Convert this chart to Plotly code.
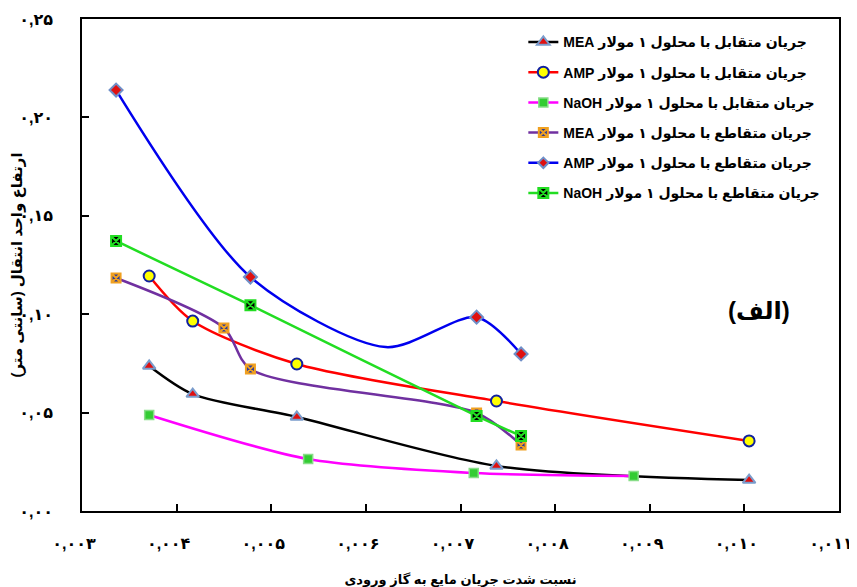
import plotly.graph_objects as go

# ---- data ----
mea_cc_x = [0.00371, 0.00417, 0.00527, 0.00738, 0.01005]
mea_cc_y = [0.0737, 0.0594, 0.0478, 0.0229, 0.0157]

amp_cc_x = [0.00371, 0.00417, 0.00527, 0.00738, 0.01005]
amp_cc_y = [0.1194, 0.0965, 0.0747, 0.0559, 0.0356]

naoh_cc_x = [0.00371, 0.00539, 0.00714, 0.00883]
naoh_cc_y = [0.0488, 0.0264, 0.0193, 0.0178]

mea_cr_x = [0.00336, 0.00450, 0.00478, 0.00717, 0.00764]
mea_cr_y = [0.1184, 0.0930, 0.0721, 0.0498, 0.0335]

amp_cr_x = [0.00336, 0.00478, 0.00621, 0.00717, 0.00764]
amp_cr_y = [0.2139, 0.1189, 0.0833, 0.0985, 0.0798]
amp_cr_marker = [10, 10, 0, 10, 10]

naoh_cr_x = [0.00336, 0.00478, 0.00717, 0.00764]
naoh_cr_y = [0.1372, 0.1046, 0.0483, 0.0381]

legend_names = [
    "جریان متقابل با محلول ۱ مولار MEA",
    "جریان متقابل با محلول ۱ مولار AMP",
    "جریان متقابل با محلول ۱ مولار NaOH",
    "جریان متقاطع با محلول ۱ مولار MEA",
    "جریان متقاطع با محلول ۱ مولار AMP",
    "جریان متقاطع با محلول ۱ مولار NaOH",
]

x_tickvals = [0.003, 0.004, 0.005, 0.006, 0.007, 0.008, 0.009, 0.010, 0.011]
x_ticktext = ["۰,۰۰۳", "۰,۰۰۴", "۰,۰۰۵", "۰,۰۰۶", "۰,۰۰۷", "۰,۰۰۸", "۰,۰۰۹", "۰,۰۱۰", "۰,۰۱۱"]
y_tickvals = [0.0, 0.05, 0.10, 0.15, 0.20, 0.25]
y_ticktext = ["۰,۰۰", "۰,۰۵", "۰,۱۰", "۰,۱۵", "۰,۲۰", "۰,۲۵"]

x_title = "نسبت شدت جریان مایع به گاز ورودی"
y_title = "ارتفاع واحد انتقال (سانتی متر)"
panel_label = "(الف)"

FONT = "Liberation Sans, DejaVu Sans, sans-serif"
RLE, PDF = "\u202b", "\u202c"


def rtl(s):
    return RLE + s + PDF


fig = go.Figure()


def add(x, y, name, lcolor, symbol, mcolor, mline, msize=10, mlw=1.5, grp="a"):
    fig.add_trace(go.Scatter(
        x=x, y=y, name=rtl(name), mode="lines+markers", legendgroup=grp,
        line=dict(color=lcolor, width=2.5, shape="spline", smoothing=0.8),
        marker=dict(symbol=symbol, color=mcolor, size=msize,
                    line=dict(color=mline, width=mlw), opacity=1),
    ))


add(mea_cc_x, mea_cc_y, legend_names[0], "#000000", "triangle-up", "#e01010", "#7a9ccc", 11, 2, "g1")
add(amp_cc_x, amp_cc_y, legend_names[1], "#ff0000", "circle", "#ffff00", "#1020a0", 11, 2, "g2")
add(naoh_cc_x, naoh_cc_y, legend_names[2], "#ff00ff", "square", "#33cc33", "#88dd88", 9, 1.5, "g3")
add(mea_cr_x, mea_cr_y, legend_names[3], "#7030a0", "square-x", "#2a3a9a", "#f0a020", 9, 2, "g4")
add(amp_cr_x, amp_cr_y, legend_names[4], "#0000ee", "diamond", "#e01010", "#6f8fc8", amp_cr_marker, 2, "g5")
add(naoh_cr_x, naoh_cr_y, legend_names[5], "#22dd22", "square-x", "#000000", "#22dd22", 10, 2, "g6")

fig.add_annotation(x=0.01015, y=0.102, text="<b>" + panel_label + "</b>", showarrow=False,
                   font=dict(family=FONT, size=24, color="black"))

# the page adds an 8px body margin, so the figure is sized/shifted to compensate
fig.update_layout(
    width=849, height=579,
    margin=dict(l=74, r=18, t=11, b=76, autoexpand=False),
    paper_bgcolor="white", plot_bgcolor="white",
    showlegend=True,
    legend=dict(x=0.583, y=0.985, xanchor="left", yanchor="top",
                font=dict(family=FONT, size=14, color="black", weight="bold"),
                bgcolor="rgba(0,0,0,0)", tracegroupgap=9, traceorder="grouped",
                itemwidth=30),
    font=dict(family=FONT, color="black"),
)
fig.update_xaxes(range=[0.003, 0.011], tickvals=x_tickvals, ticktext=x_ticktext,
                 ticks="inside", ticklen=7, tickwidth=1.5, tickcolor="black",
                 showline=True, linecolor="black", linewidth=1.5, mirror=True,
                 showgrid=False, zeroline=False, ticklabelstandoff=17, ticklabelshift=-8,
                 automargin=False,
                 tickfont=dict(family=FONT, size=16, weight="bold"),
                 title=dict(text=rtl(x_title), font=dict(family=FONT, size=13, weight="bold"), standoff=25))
fig.update_yaxes(range=[0, 0.25], tickvals=y_tickvals, ticktext=y_ticktext,
                 ticks="inside", ticklen=7, tickwidth=1.5, tickcolor="black",
                 showline=True, linecolor="black", linewidth=1.5, mirror=True,
                 showgrid=False, zeroline=False, ticklabelstandoff=24, automargin=False,
                 tickfont=dict(family=FONT, size=16, weight="bold"),
                 title=dict(text=rtl(y_title), font=dict(family=FONT, size=15, weight="bold"), standoff=0))

fig.write_html("out.html")
